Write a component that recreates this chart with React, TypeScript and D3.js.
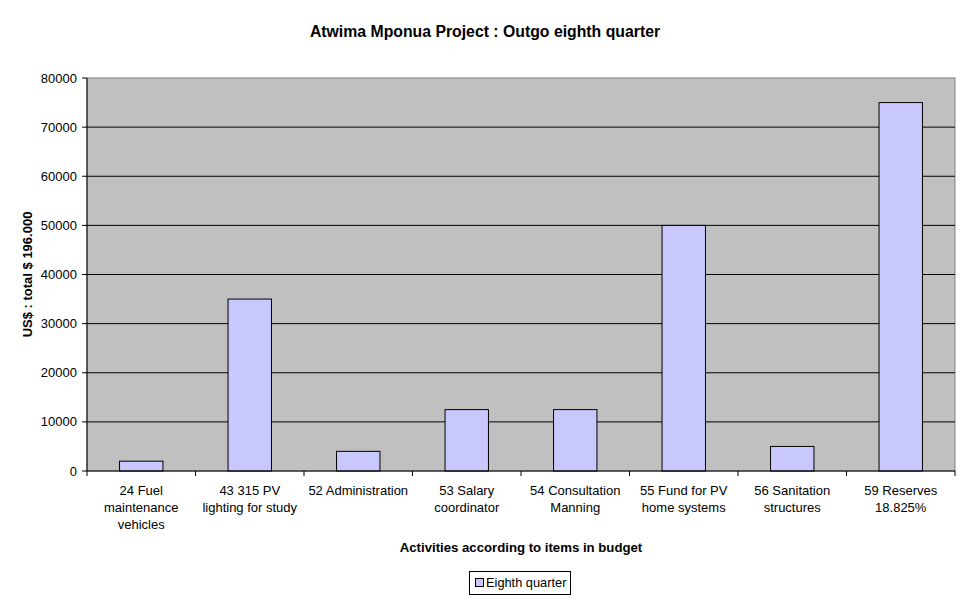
import React from "react";
import * as d3 from "d3";

const categories: string[][] = [
  ["24 Fuel", "maintenance", "vehicles"],
  ["43 315 PV", "lighting for study"],
  ["52 Administration"],
  ["53 Salary", "coordinator"],
  ["54 Consultation", "Manning"],
  ["55 Fund for PV", "home systems"],
  ["56 Sanitation", "structures"],
  ["59 Reserves", "18.825%"],
];
const values: number[] = [2000, 35000, 4000, 12500, 12500, 50000, 5000, 75000];
const yTicks: number[] = [0, 10000, 20000, 30000, 40000, 50000, 60000, 70000, 80000];
const title = "Atwima Mponua Project : Outgo eighth quarter";
const yTitle = "US$ : total $ 196.000";
const xTitle = "Activities according to items in budget";
const seriesName = "Eighth quarter";

export default function App() {
  const W = 970, H = 604;
  const L = 87, R = 955, T = 78, B = 471;
  const font = "Arial, 'Liberation Sans', sans-serif";
  const idx = categories.map((_, i) => String(i));
  const x = d3.scaleBand<string>().domain(idx).range([L, R]);
  const y = d3.scaleLinear().domain([0, 80000]).range([B, T]);
  const step = x.step();
  const bw = step * 0.4;
  return (
    <svg width={W} height={H} style={{ position: "absolute", left: 0, top: 0, background: "#fff" }} fontFamily={font}>
      <rect x={0} y={0} width={W} height={H} fill="#fff" />
      <text x={485} y={37} textAnchor="middle" fontSize={15.8} fontWeight="bold">{title}</text>
      <rect x={L} y={T} width={R - L} height={B - T} fill="#c0c0c0" stroke="#808080" strokeWidth={1} />
      {yTicks.map((t) => (
        <g key={t}>
          {t > 0 && t < 80000 && <line x1={L} x2={R} y1={y(t)} y2={y(t)} stroke="#000" strokeWidth={1} />}
          <line x1={L - 5} x2={L} y1={y(t)} y2={y(t)} stroke="#000" />
          <text x={L - 10} y={y(t) + 4.5} textAnchor="end" fontSize={13}>{t}</text>
        </g>
      ))}
      {values.map((v, i) => {
        const cx = (x(String(i)) as number) + step / 2;
        return (
          <rect key={i} x={cx - bw / 2} y={y(v)} width={bw} height={B - y(v)} fill="#c8c8ff" stroke="#000" strokeWidth={1} />
        );
      })}
      <line x1={L} x2={L} y1={T} y2={B} stroke="#000" />
      <line x1={L} x2={R} y1={B} y2={B} stroke="#000" />
      {d3.range(categories.length + 1).map((i) => (
        <line key={i} x1={L + i * step} x2={L + i * step} y1={B} y2={B + 5} stroke="#000" />
      ))}
      {categories.map((lines, i) => {
        const cx = (x(String(i)) as number) + step / 2;
        return (
          <text key={i} x={cx} textAnchor="middle" fontSize={13}>
            {lines.map((ln, j) => (
              <tspan key={j} x={cx} y={495 + j * 17}>{ln}</tspan>
            ))}
          </text>
        );
      })}
      <text x={521} y={552} textAnchor="middle" fontSize={13.2} fontWeight="bold">{xTitle}</text>
      <text transform={`translate(32, ${(T + B) / 2}) rotate(-90)`} textAnchor="middle" fontSize={13} fontWeight="bold">{yTitle}</text>
      <rect x={469.5} y={571.5} width={101} height={23} fill="#fff" stroke="#000" />
      <rect x={475.5} y={578.5} width={8} height={8} fill="#c8c8ff" stroke="#000" />
      <text x={486} y={587} fontSize={12.8}>{seriesName}</text>
    </svg>
  );
}
